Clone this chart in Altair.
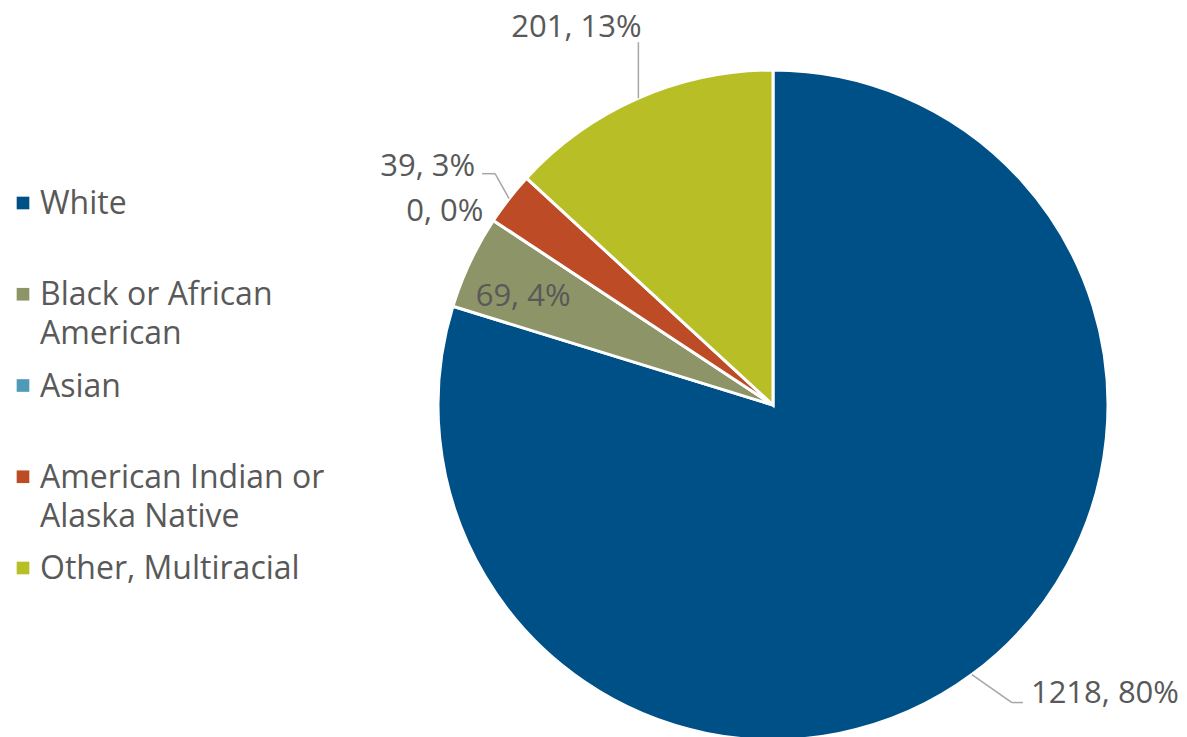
import altair as alt
import pandas as pd
import numpy as np

# ---- data ----
categories = ["White", "Black or African American", "Asian",
              "American Indian or Alaska Native", "Other, Multiracial"]
legend_lines = [["White"], ["Black or African", "American"], ["Asian"],
                ["American Indian or", "Alaska Native"], ["Other, Multiracial"]]
counts = [1218, 69, 0, 39, 201]
percents = [80, 4, 0, 3, 13]
colors = ["#005088", "#8C9468", "#4F9AB8", "#BC4B26", "#B8BF26"]

# ---- layout / style constants ----
FONT = "Open Sans"
TEXT_COLOR = "#595959"
FONT_SIZE = 32
LABEL_SIZE = 31
CX, CY, R = 765, 397, 335
# per label: elbow offset from slice edge, horizontal run, text offset from leader end, alignment
LAYOUT = [
    dict(elbow=(40, 28), run=11, text=(8, -9), align="left"),
    dict(elbow=(0, 0), run=0, text=(53, 35), align="center"),
    dict(elbow=(0, 0), run=0, text=(-10, -8), align="right"),
    dict(elbow=(-14, -25), run=-13, text=(-7, -7), align="right"),
    dict(elbow=(0, -56), run=0, text=(-62, -14), align="center"),
]

total = sum(counts)
starts = np.cumsum([0] + counts[:-1])
mids = (starts + np.array(counts) / 2) / total * 2 * np.pi

pie_df = pd.DataFrame({"category": categories, "count": counts, "idx": range(len(categories))})

label_rows, seg_rows = [], []
for i, cat in enumerate(categories):
    lay = LAYOUT[i]
    ex = CX + R * np.sin(mids[i])
    ey = CY - R * np.cos(mids[i])
    bx, by = ex + lay["elbow"][0], ey + lay["elbow"][1]
    hx, hy = bx + lay["run"], by
    if lay["elbow"] != (0, 0):
        seg_rows.append(dict(x=ex, y=ey, x2=bx, y2=by))
    if lay["run"] != 0:
        seg_rows.append(dict(x=bx, y=by, x2=hx, y2=hy))
    label_rows.append(dict(x=hx + lay["text"][0], y=hy + lay["text"][1],
                           text=f"{counts[i]}, {percents[i]}%", align=lay["align"]))
label_df = pd.DataFrame(label_rows)
seg_df = pd.DataFrame(seg_rows)

leg_sq, leg_txt = [], []
for i, cat in enumerate(categories):
    leg_sq.append(dict(category=cat, x=15, y=195 + 91.25 * i))
    for j, line in enumerate(legend_lines[i]):
        leg_txt.append(dict(text=line, x=32, y=196 + 91.25 * i + 39 * j))
leg_sq_df = pd.DataFrame(leg_sq)
leg_txt_df = pd.DataFrame(leg_txt)

color_scale = alt.Scale(domain=categories, range=colors)
X = lambda f: alt.X(f, scale=None, axis=None)
Y = lambda f: alt.Y(f, scale=None, axis=None)

pie = alt.Chart(pie_df).mark_arc(radius=R, stroke="white", strokeWidth=3).encode(
    theta=alt.Theta("count:Q", stack=True),
    color=alt.Color("category:N", scale=color_scale, legend=None),
    order=alt.Order("idx:Q"),
    x=alt.value(CX), y=alt.value(CY),
)

leaders = alt.Chart(seg_df).mark_rule(color="#A6A6A6", strokeWidth=1.5).encode(
    x=X("x:Q"), y=Y("y:Q"), x2="x2:Q", y2="y2:Q"
)

def label_layer(al):
    return alt.Chart(label_df).transform_filter(alt.datum.align == al).mark_text(
        align=al, baseline="middle", font=FONT, fontSize=LABEL_SIZE, color=TEXT_COLOR
    ).encode(x=X("x:Q"), y=Y("y:Q"), text="text:N")

squares = alt.Chart(leg_sq_df).mark_square(size=160, opacity=1).encode(
    x=X("x:Q"), y=Y("y:Q"),
    color=alt.Color("category:N", scale=color_scale, legend=None),
)
leg_text = alt.Chart(leg_txt_df).mark_text(
    align="left", baseline="middle", font=FONT, fontSize=FONT_SIZE, color=TEXT_COLOR
).encode(x=X("x:Q"), y=Y("y:Q"), text="text:N")

chart = alt.layer(
    pie, leaders, label_layer("left"), label_layer("center"), label_layer("right"),
    squares, leg_text
).properties(
    width=1171, height=729, padding=0, autosize="none"
).configure(background="white", view=alt.ViewConfig(stroke=None))

chart.save("out.html", embed_options={"renderer": "svg", "actions": False})
